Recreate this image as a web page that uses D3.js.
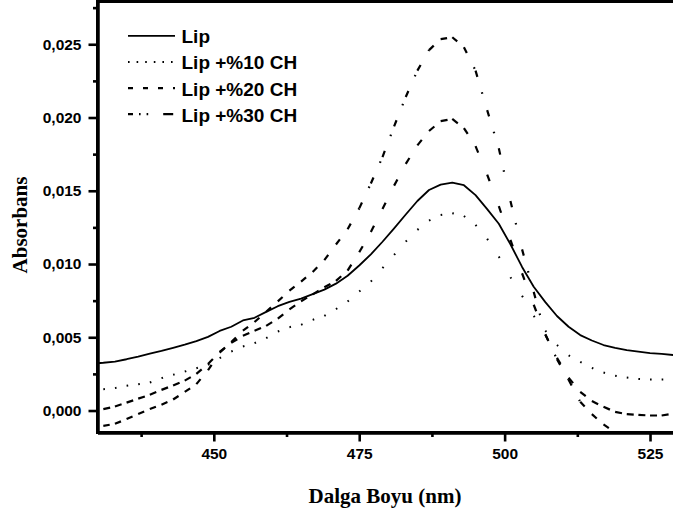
<!DOCTYPE html>
<html>
<head>
<meta charset="utf-8">
<script src="https://cdn.jsdelivr.net/npm/d3@7"></script>
<style>
    body { margin: 0; background: #fff; }
    svg { display: block; background: #fff; }
</style>
</head>
<body>
<svg id="chart"></svg>
<script>
// first point sits just left of the frame and is clipped
const wavelengths = [429, 431, 433, 435, 437, 439, 441, 443, 445, 447, 449,
    451, 453, 455, 457, 459, 461, 463, 465, 467, 469,
    471, 473, 475, 477, 479, 481, 483, 485, 487, 489,
    491, 493, 495, 497, 499, 501, 503, 505, 507, 509,
    511, 513, 515, 517, 519, 521, 523, 525, 527, 529];

const lip = [0.00320, 0.00326, 0.00334, 0.00350, 0.00368, 0.00388, 0.00407, 0.00428, 0.00450, 0.00474, 0.00503,
    0.00543, 0.00572, 0.00615, 0.00633, 0.00673, 0.00712, 0.00742, 0.00764, 0.00794, 0.00825,
    0.00866, 0.00920, 0.00990, 0.01066, 0.01152, 0.01243, 0.01338, 0.01430, 0.01505, 0.01542,
    0.01556, 0.01538, 0.01470, 0.01375, 0.01275, 0.01135, 0.00980, 0.00845, 0.00740, 0.00645,
    0.00572, 0.00515, 0.00478, 0.00447, 0.00428, 0.00412, 0.00402, 0.00392, 0.00386, 0.00379];

const lip10 = [0.00142, 0.00146, 0.00153, 0.00169, 0.00180, 0.00191, 0.00221, 0.00244, 0.00266, 0.00289, 0.00312,
    0.00358, 0.00403, 0.00437, 0.00460, 0.00494, 0.00539, 0.00569, 0.00585, 0.00619, 0.00646,
    0.00692, 0.00744, 0.00812, 0.00880, 0.00972, 0.01062, 0.01153, 0.01233, 0.01296, 0.01335,
    0.01347, 0.01328, 0.01267, 0.01172, 0.01051, 0.00910, 0.00783, 0.00646, 0.00545, 0.00448,
    0.00377, 0.00332, 0.00291, 0.00259, 0.00237, 0.00225, 0.00216, 0.00212, 0.00212, 0.00214];

const lip20 = [-0.00008, 0.00010, 0.00027, 0.00054, 0.00081, 0.00107, 0.00141, 0.00171, 0.00204, 0.00250, 0.00318,
    0.00400, 0.00462, 0.00510, 0.00545, 0.00578, 0.00627, 0.00690, 0.00746, 0.00793, 0.00841,
    0.00885, 0.00955, 0.01080, 0.01218, 0.01376, 0.01535, 0.01683, 0.01810, 0.01908, 0.01975,
    0.01990, 0.01928, 0.01805, 0.01610, 0.01395, 0.01165, 0.00937, 0.00722, 0.00518, 0.00360,
    0.00224, 0.00128, 0.00065, 0.00025, -0.00009, -0.00025, -0.00030, -0.00034, -0.00034, -0.00022];

// runs out through the bottom of the frame, so the list stops early
const lip30 = [-0.00115, -0.00105, -0.00091, -0.00058, -0.00024, 0.00010, 0.00040, 0.00075, 0.00127, 0.00180, 0.00275,
    0.00395, 0.00468, 0.00545, 0.00604, 0.00674, 0.00745, 0.00818, 0.00880, 0.00946, 0.01027,
    0.01133, 0.01237, 0.01380, 0.01550, 0.01730, 0.01940, 0.02140, 0.02320, 0.02460, 0.02535,
    0.02548, 0.02480, 0.02320, 0.02050, 0.01790, 0.01430, 0.01100, 0.00810, 0.00520, 0.00350,
    0.00210, 0.00060, -0.00025, -0.00095, -0.00150, -0.00195, -0.00235];

const seriesNames = ['Lip', 'Lip +%10 CH', 'Lip +%20 CH', 'Lip +%30 CH'];
const xTicks = [450, 475, 500, 525];
const xMinorTicks = [437.5, 462.5, 487.5, 512.5];
const yTicks = [0, 0.005, 0.010, 0.015, 0.020, 0.025];
const yMinorTicks = [0.0025, 0.0075, 0.0125, 0.0175, 0.0225, 0.0275];

class spectraChart {
    constructor(config) {
        this.config = {
            parent: config.parent,
            width: config.width || 673,
            height: config.height || 519,
            margin: config.margin || { top: 0.3, left: 97.5, bottom: 86.5 }
        };
        this.init();
    }

    init() {
        let self = this;
        let m = self.config.margin;

        self.svg = d3.select(self.config.parent)
            .attr('width', self.config.width)
            .attr('height', self.config.height);

        self.xscale = d3.scaleLinear()
            .domain([430, 530])
            .range([m.left, m.left + 581.6]);
        self.yscale = d3.scaleLinear()
            .domain([-0.0015, 0.028])
            .range([self.config.height - m.bottom, m.top]);

        self.svg.append('defs').append('clipPath')
            .attr('id', 'plot-clip')
            .append('rect')
            .attr('x', m.left)
            .attr('y', 0)
            .attr('width', self.config.width - m.left)
            .attr('height', self.config.height - m.bottom);

        self.plot = self.svg.append('g').attr('clip-path', 'url(#plot-clip)');

        self.series = [
            { name: seriesNames[0], values: lip, dash: null, width: 1.8, legendDash: null },
            { name: seriesNames[1], values: lip10, dash: '1.6,200', width: 2, legendDash: '1.6,7' },
            { name: seriesNames[2], values: lip20, dash: '7,200', width: 2.2, legendDash: '5,10' },
            { name: seriesNames[3], values: lip30, dash: '6.5,16,1.6,200', width: 2.2, legendDash: '5,6,1.6,6,1.6,15,10' }
        ];
    }

    render() {
        let self = this;
        let bottom = self.yscale.range()[0];
        let left = self.xscale.range()[0];

        let line = d3.line()
            .x(d => self.xscale(d[0]))
            .y(d => self.yscale(d[1]));

        self.series.forEach(s => {
            let pts = s.values.map((v, i) => [wavelengths[i], v]);
            if (!s.dash) {
                self.plot.append('path')
                    .datum(pts)
                    .attr('d', line)
                    .attr('fill', 'none')
                    .attr('stroke', '#000')
                    .attr('stroke-width', s.width)
                    .attr('stroke-linejoin', 'round');
            } else {
                // the pattern starts over on every segment, as in the original plot
                self.plot.append('g')
                    .selectAll('path')
                    .data(d3.pairs(pts))
                    .join('path')
                    .attr('d', d => line(d))
                    .attr('fill', 'none')
                    .attr('stroke', '#000')
                    .attr('stroke-width', s.width)
                    .attr('stroke-dasharray', s.dash);
            }
        });

        let fmt = d3.formatLocale({ decimal: ',', thousands: '.', grouping: [3], currency: ['', ''] }).format('.3f');

        let yaxis = d3.axisLeft(self.yscale)
            .tickValues(yTicks)
            .tickFormat(fmt)
            .tickSize(9)
            .tickPadding(7)
            .tickSizeOuter(0);
        let yminor = d3.axisLeft(self.yscale)
            .tickValues(yMinorTicks)
            .tickFormat('')
            .tickSize(4.5)
            .tickSizeOuter(0);
        let xaxis = d3.axisBottom(self.xscale)
            .tickValues(xTicks)
            .tickFormat(d3.format('d'))
            .tickSize(9)
            .tickPadding(6)
            .tickSizeOuter(0);
        let xminor = d3.axisBottom(self.xscale)
            .tickValues(xMinorTicks)
            .tickFormat('')
            .tickSize(4.5)
            .tickSizeOuter(0);

        let axes = [
            self.svg.append('g').attr('transform', `translate(${left},0)`).call(yminor),
            self.svg.append('g').attr('transform', `translate(${left},0)`).call(yaxis),
            self.svg.append('g').attr('transform', `translate(0,${bottom})`).call(xminor),
            self.svg.append('g').attr('transform', `translate(0,${bottom})`).call(xaxis)
        ];
        axes.forEach(a => {
            a.select('.domain').attr('stroke', '#000').attr('stroke-width', 3);
            a.selectAll('.tick line').attr('stroke', '#000').attr('stroke-width', 2.6);
            a.selectAll('.tick text')
                .attr('fill', '#000')
                .style('font-family', '"Liberation Sans", Arial, sans-serif')
                .style('font-weight', 'bold')
                .style('font-size', '15.5px');
        });

        // frame: left axis runs to the top, top border across
        self.svg.append('line')
            .attr('x1', left).attr('x2', left)
            .attr('y1', 0).attr('y2', bottom)
            .attr('stroke', '#000').attr('stroke-width', 3);
        self.svg.append('line')
            .attr('x1', left - 1.5).attr('x2', self.config.width)
            .attr('y1', 1.5).attr('y2', 1.5)
            .attr('stroke', '#000').attr('stroke-width', 3);
        self.svg.append('line')
            .attr('x1', left - 1.5).attr('x2', self.config.width)
            .attr('y1', bottom).attr('y2', bottom)
            .attr('stroke', '#000').attr('stroke-width', 3);

        // legend
        let legend = self.svg.append('g').attr('transform', 'translate(128,0)');
        let rowY = d3.scalePoint().domain(seriesNames).range([43.3, 121.7]);
        self.series.forEach(s => {
            let y = rowY(s.name);
            legend.append('line')
                .attr('x1', 0).attr('x2', 47)
                .attr('y1', y - 7.5).attr('y2', y - 7.5)
                .attr('stroke', '#000')
                .attr('stroke-width', s.width)
                .attr('stroke-dasharray', s.legendDash);
            legend.append('text')
                .attr('x', 53.5)
                .attr('y', y)
                .style('font-family', '"Liberation Sans", Arial, sans-serif')
                .style('font-weight', 'bold')
                .style('font-size', '19px')
                .text(s.name);
        });

        self.svg.append('text')
            .attr('x', 385)
            .attr('y', 503)
            .attr('text-anchor', 'middle')
            .style('font-family', '"Liberation Serif", "Times New Roman", serif')
            .style('font-weight', 'bold')
            .style('font-size', '21px')
            .text('Dalga Boyu (nm)');

        self.svg.append('text')
            .attr('transform', 'translate(26.5,225) rotate(-90)')
            .attr('text-anchor', 'middle')
            .style('font-family', '"Liberation Serif", "Times New Roman", serif')
            .style('font-weight', 'bold')
            .style('font-size', '21px')
            .text('Absorbans');
    }
}

let chart = new spectraChart({ parent: '#chart', width: 673, height: 519 });
chart.render();
</script>
</body>
</html>
